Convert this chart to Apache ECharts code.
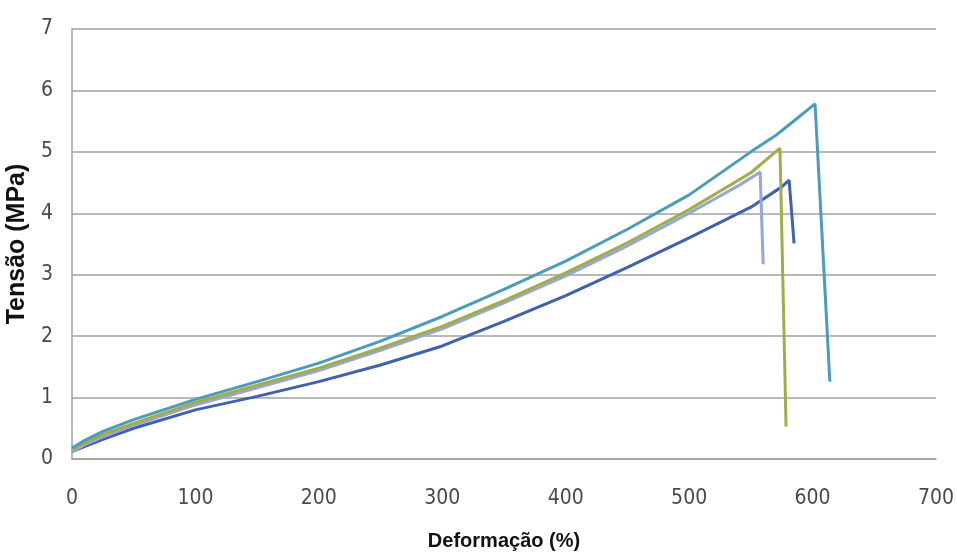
<!DOCTYPE html>
<html>
<head>
<meta charset="utf-8">
<script src="https://cdn.jsdelivr.net/npm/echarts@6/dist/echarts.min.js"></script>
<style>html,body{margin:0;padding:0;background:#fff}#c{width:957px;height:556px}</style>
</head>
<body>
<div id="c"></div>
<script>
// Deformação (%) / Tensão (MPa) pairs for each specimen
var cp1X = [0, 10, 25, 50, 100, 150, 200, 250, 300, 350, 400, 450, 500, 550, 575, 581, 585];
var cp1Y = [0.12, 0.2, 0.32, 0.5, 0.8, 1.02, 1.26, 1.53, 1.84, 2.24, 2.66, 3.12, 3.6, 4.1, 4.43, 4.54, 3.51];

var cp2X = [0, 10, 25, 50, 100, 150, 200, 250, 300, 350, 400, 450, 500, 540, 557.5, 560];
var cp2Y = [0.12, 0.23, 0.36, 0.55, 0.88, 1.16, 1.44, 1.77, 2.12, 2.54, 2.98, 3.47, 4.0, 4.45, 4.67, 3.17];

var cp3X = [0, 10, 25, 50, 100, 150, 200, 250, 300, 350, 400, 450, 500, 550, 573.6, 578.5];
var cp3Y = [0.15, 0.26, 0.4, 0.58, 0.92, 1.2, 1.48, 1.81, 2.16, 2.58, 3.03, 3.52, 4.06, 4.66, 5.06, 0.53];

var cp4X = [0, 10, 25, 50, 100, 150, 200, 250, 300, 350, 400, 450, 500, 550, 571, 576, 602, 614];
var cp4Y = [0.18, 0.3, 0.45, 0.64, 0.97, 1.26, 1.56, 1.92, 2.32, 2.76, 3.22, 3.74, 4.3, 5.0, 5.28, 5.36, 5.78, 1.26];

var xTitle = 'Deformação (%)';
var yTitle = 'Tensão (MPa)';

function pairs(xs, ys) { return xs.map(function (x, i) { return [x, ys[i]]; }); }

var colors = ['#4060b0', '#94a6dc', '#a2ad48', '#4b9cbc'];
var sets = [[cp1X, cp1Y], [cp2X, cp2Y], [cp3X, cp3Y], [cp4X, cp4Y]];

var chart = echarts.init(document.getElementById('c'));
var tickFont = '"Liberation Sans Narrow", "DejaVu Sans Condensed", "Liberation Sans", sans-serif';
chart.setOption({
  animation: false,
  backgroundColor: '#ffffff',
  grid: { left: 72, right: 21, top: 29, bottom: 97, containLabel: false, outerBoundsMode: 'none' },
  xAxis: {
    type: 'value', min: 0, max: 700, interval: 100,
    name: xTitle, nameLocation: 'middle', nameGap: 72,
    nameTextStyle: { fontFamily: '"Liberation Sans", sans-serif', fontWeight: 'bold', fontSize: 20, color: '#111' },
    axisLine: { show: true, lineStyle: { color: '#a0a0a0', width: 1.5 } },
    axisTick: { show: false },
    splitLine: { show: false },
    axisLabel: { fontFamily: tickFont, fontSize: 21, color: '#4a4a4a', margin: 29 }
  },
  yAxis: {
    type: 'value', min: 0, max: 7, interval: 1,
    name: yTitle, nameLocation: 'middle', nameGap: 41, nameRotate: 90,
    nameTextStyle: { fontFamily: '"Liberation Sans", sans-serif', fontWeight: 'bold', fontSize: 25, color: '#111' },
    axisLine: { show: true, lineStyle: { color: '#a0a0a0', width: 1.5 } },
    axisTick: { show: false },
    splitLine: { show: true, lineStyle: { color: '#a0a0a0', width: 1.5 } },
    axisLabel: { fontFamily: tickFont, fontSize: 21, color: '#4a4a4a', margin: 19 }
  },
  series: sets.map(function (s, i) {
    return {
      type: 'line', data: pairs(s[0], s[1]), showSymbol: false, symbol: 'none',
      lineStyle: { color: colors[i], width: 3 }, itemStyle: { color: colors[i] }
    };
  })
});
</script>
</body>
</html>
